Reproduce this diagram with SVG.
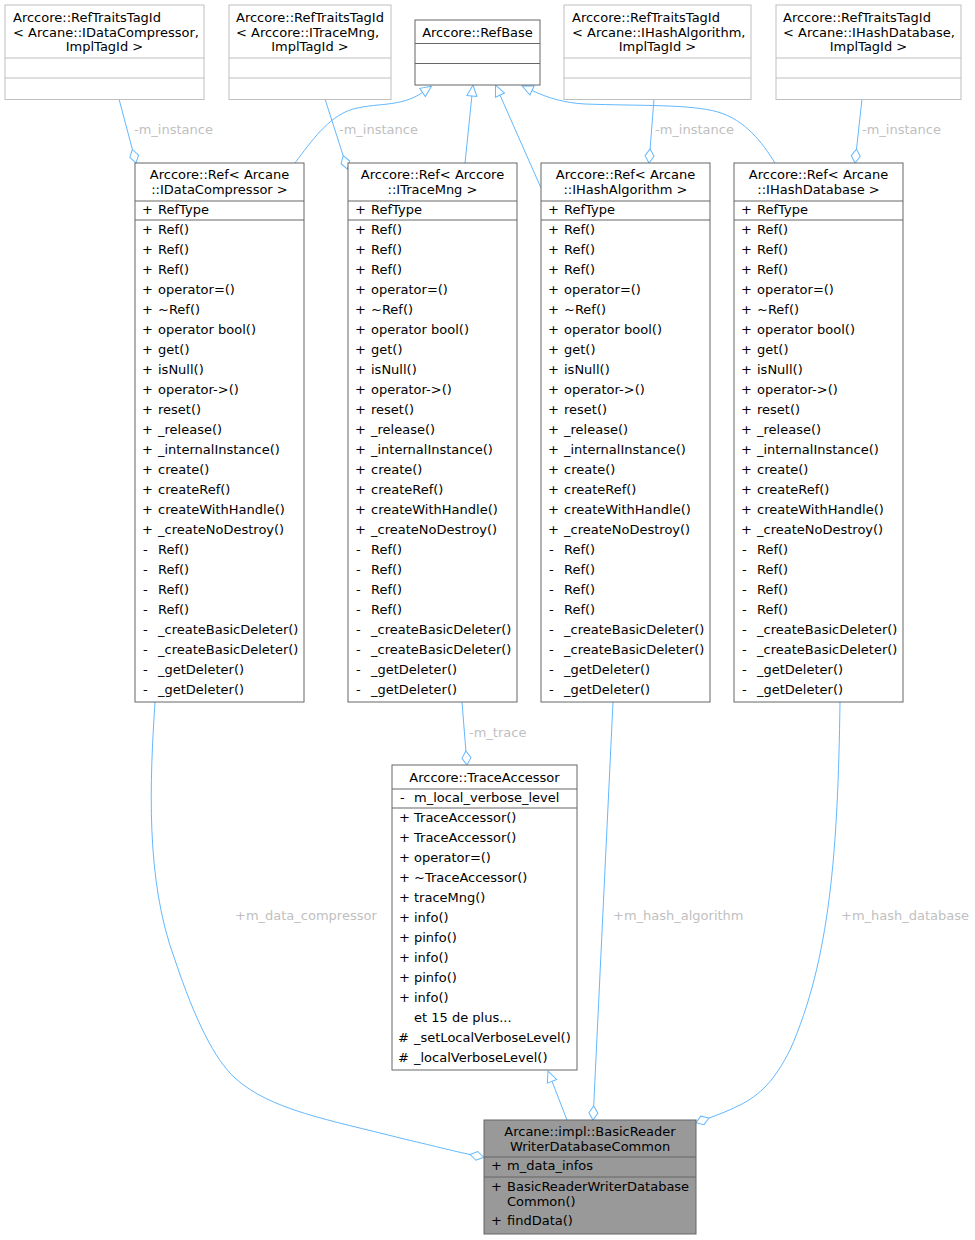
<svg xmlns="http://www.w3.org/2000/svg" width="975" height="1240" viewBox="0 0 975 1240">
<style>
text{font-family:"DejaVu Sans","Liberation Sans",sans-serif;font-size:13px;fill:#000}
.c{text-anchor:middle}
.lbl{fill:#bfbfbf}
.box{fill:#fff;stroke:#666;stroke-width:1}
.lbox{fill:#fff;stroke:#bfbfbf;stroke-width:1}
.sep{stroke:#666;stroke-width:1}
.lsep{stroke:#bfbfbf;stroke-width:1}
.e{fill:none;stroke:#63b8ff;stroke-width:1}
.inh{marker-end:url(#tri)}
.agg{marker-end:url(#dia)}
</style>
<defs>
<marker id="tri" viewBox="-1 -6 14 12" markerWidth="14" markerHeight="12" refX="0" refY="0" orient="auto" markerUnits="userSpaceOnUse"><path d="M0,-5 L11,0 L0,5 Z" fill="#fff" stroke="#63b8ff" stroke-width="1"/></marker>
<marker id="dia" viewBox="-1 -6 16 12" markerWidth="16" markerHeight="12" refX="0" refY="0" orient="auto" markerUnits="userSpaceOnUse"><path d="M0,0 L7,-4.5 L14,0 L7,4.5 Z" fill="#fff" stroke="#63b8ff" stroke-width="1"/></marker>
</defs>
<rect width="975" height="1240" fill="#fff"/>

<g id="edges">
<path class="e agg" d="M119,99 L132.4,149.5"/>
<path class="e agg" d="M325,99 L343.2,155.7"/>
<path class="e agg" d="M654,99 L650.1,149"/>
<path class="e agg" d="M862,99 L856.5,149.1"/>
<path class="e inh" d="M295,163 C312,140 328,118 350,110 C375,102 400,108 422.5,92.5"/>
<path class="e inh" d="M465,163 L471.9,96"/>
<path class="e inh" d="M541,188 L500,95.1"/>
<path class="e inh" d="M775,163 C762,142 745,120 718,112 C690,104 640,106 585,104 C565,103 548,98 532,90.5"/>
<path class="e agg" d="M462,702 L465.9,751"/>
<path class="e inh" d="M567,1120 L552,1081.3"/>
<path class="e agg" d="M613,702 L593.7,1106"/>
<path class="e agg" d="M155,702 C150,780 145,880 175,960 C195,1020 215,1060 235,1078 C270,1110 330,1120 400,1138 C430,1145 456,1151.7 470,1154.5"/>
<path class="e agg" d="M840,702 C838,850 830,960 790,1050 C775,1080 760,1095 740,1105 C728,1111 720,1114 709,1118"/>
<text class="lbl" x="134" y="134">-m_instance</text>
<text class="lbl" x="339" y="134">-m_instance</text>
<text class="lbl" x="655" y="134">-m_instance</text>
<text class="lbl" x="862" y="134">-m_instance</text>
<text class="lbl" x="469" y="737">-m_trace</text>
<text class="lbl" x="235" y="920">+m_data_compressor</text>
<text class="lbl" x="613" y="920">+m_hash_algorithm</text>
<text class="lbl" x="841" y="920">+m_hash_database</text>
</g>

<g id="node_traits_datacompressor">
<rect class="lbox" x="5" y="5" width="199" height="94.5"/>
<line class="lsep" x1="5" y1="58" x2="204" y2="58"/>
<line class="lsep" x1="5" y1="78" x2="204" y2="78"/>
<text x="13" y="22">Arccore::RefTraitsTagId</text>
<text x="13" y="36.5">&lt; Arcane::IDataCompressor,</text>
<text class="c" x="104.5" y="51">ImplTagId &gt;</text>
</g>
<g id="node_traits_tracemng">
<rect class="lbox" x="229" y="5" width="162" height="94.5"/>
<line class="lsep" x1="229" y1="58" x2="391" y2="58"/>
<line class="lsep" x1="229" y1="78" x2="391" y2="78"/>
<text x="236" y="22">Arccore::RefTraitsTagId</text>
<text x="236" y="36.5">&lt; Arccore::ITraceMng,</text>
<text class="c" x="310" y="51">ImplTagId &gt;</text>
</g>
<g id="node_refbase">
<rect class="box" x="415" y="20" width="125" height="65"/>
<line class="sep" x1="415" y1="43.5" x2="540" y2="43.5"/>
<line class="sep" x1="415" y1="63.5" x2="540" y2="63.5"/>
<text class="c" x="477.5" y="37">Arccore::RefBase</text>
</g>
<g id="node_traits_hashalgorithm">
<rect class="lbox" x="564" y="5" width="187" height="94.5"/>
<line class="lsep" x1="564" y1="58" x2="751" y2="58"/>
<line class="lsep" x1="564" y1="78" x2="751" y2="78"/>
<text x="572" y="22">Arccore::RefTraitsTagId</text>
<text x="572" y="36.5">&lt; Arcane::IHashAlgorithm,</text>
<text class="c" x="657.5" y="51">ImplTagId &gt;</text>
</g>
<g id="node_traits_hashdatabase">
<rect class="lbox" x="776" y="5" width="185" height="94.5"/>
<line class="lsep" x1="776" y1="58" x2="961" y2="58"/>
<line class="lsep" x1="776" y1="78" x2="961" y2="78"/>
<text x="783" y="22">Arccore::RefTraitsTagId</text>
<text x="783" y="36.5">&lt; Arcane::IHashDatabase,</text>
<text class="c" x="868.5" y="51">ImplTagId &gt;</text>
</g>

<defs>
<g id="refbody">
<rect class="box" x="0" y="163" width="169" height="539"/>
<line class="sep" x1="0" y1="201" x2="169" y2="201"/>
<line class="sep" x1="0" y1="220" x2="169" y2="220"/>
<text x="7" y="214">+</text><text x="23" y="214">RefType</text>
<text><tspan x="7" y="234">+</tspan><tspan x="7" dy="20">+</tspan><tspan x="7" dy="20">+</tspan><tspan x="7" dy="20">+</tspan><tspan x="7" dy="20">+</tspan><tspan x="7" dy="20">+</tspan><tspan x="7" dy="20">+</tspan><tspan x="7" dy="20">+</tspan><tspan x="7" dy="20">+</tspan><tspan x="7" dy="20">+</tspan><tspan x="7" dy="20">+</tspan><tspan x="7" dy="20">+</tspan><tspan x="7" dy="20">+</tspan><tspan x="7" dy="20">+</tspan><tspan x="7" dy="20">+</tspan><tspan x="7" dy="20">+</tspan><tspan x="8" dy="20">-</tspan><tspan x="8" dy="20">-</tspan><tspan x="8" dy="20">-</tspan><tspan x="8" dy="20">-</tspan><tspan x="8" dy="20">-</tspan><tspan x="8" dy="20">-</tspan><tspan x="8" dy="20">-</tspan><tspan x="8" dy="20">-</tspan></text>
<text><tspan x="23" y="234">Ref()</tspan><tspan x="23" dy="20">Ref()</tspan><tspan x="23" dy="20">Ref()</tspan><tspan x="23" dy="20">operator=()</tspan><tspan x="23" dy="20">~Ref()</tspan><tspan x="23" dy="20">operator bool()</tspan><tspan x="23" dy="20">get()</tspan><tspan x="23" dy="20">isNull()</tspan><tspan x="23" dy="20">operator-&gt;()</tspan><tspan x="23" dy="20">reset()</tspan><tspan x="23" dy="20">_release()</tspan><tspan x="23" dy="20">_internalInstance()</tspan><tspan x="23" dy="20">create()</tspan><tspan x="23" dy="20">createRef()</tspan><tspan x="23" dy="20">createWithHandle()</tspan><tspan x="23" dy="20">_createNoDestroy()</tspan><tspan x="23" dy="20">Ref()</tspan><tspan x="23" dy="20">Ref()</tspan><tspan x="23" dy="20">Ref()</tspan><tspan x="23" dy="20">Ref()</tspan><tspan x="23" dy="20">_createBasicDeleter()</tspan><tspan x="23" dy="20">_createBasicDeleter()</tspan><tspan x="23" dy="20">_getDeleter()</tspan><tspan x="23" dy="20">_getDeleter()</tspan></text>
</g>
</defs>

<g id="node_ref_datacompressor" transform="translate(135,0)">
<use href="#refbody"/>
<text class="c" x="84.5" y="179">Arccore::Ref&lt; Arcane</text>
<text class="c" x="84.5" y="193.5">::IDataCompressor &gt;</text>
</g>
<g id="node_ref_tracemng" transform="translate(348,0)">
<use href="#refbody"/>
<text class="c" x="84.5" y="179">Arccore::Ref&lt; Arccore</text>
<text class="c" x="84.5" y="193.5">::ITraceMng &gt;</text>
</g>
<g id="node_ref_hashalgorithm" transform="translate(541,0)">
<use href="#refbody"/>
<text class="c" x="84.5" y="179">Arccore::Ref&lt; Arcane</text>
<text class="c" x="84.5" y="193.5">::IHashAlgorithm &gt;</text>
</g>
<g id="node_ref_hashdatabase" transform="translate(734,0)">
<use href="#refbody"/>
<text class="c" x="84.5" y="179">Arccore::Ref&lt; Arcane</text>
<text class="c" x="84.5" y="193.5">::IHashDatabase &gt;</text>
</g>

<g id="node_traceaccessor">
<rect class="box" x="392" y="765" width="185" height="305"/>
<line class="sep" x1="392" y1="789" x2="577" y2="789"/>
<line class="sep" x1="392" y1="808" x2="577" y2="808"/>
<text class="c" x="484.5" y="782">Arccore::TraceAccessor</text>
<text x="400" y="802">-</text><text x="414" y="802">m_local_verbose_level</text>
<text><tspan x="399" y="822">+</tspan><tspan x="399" dy="20">+</tspan><tspan x="399" dy="20">+</tspan><tspan x="399" dy="20">+</tspan><tspan x="399" dy="20">+</tspan><tspan x="399" dy="20">+</tspan><tspan x="399" dy="20">+</tspan><tspan x="399" dy="20">+</tspan><tspan x="399" dy="20">+</tspan><tspan x="399" dy="20">+</tspan><tspan x="398" dy="40">#</tspan><tspan x="398" dy="20">#</tspan></text>
<text><tspan x="414" y="822">TraceAccessor()</tspan><tspan x="414" dy="20">TraceAccessor()</tspan><tspan x="414" dy="20">operator=()</tspan><tspan x="414" dy="20">~TraceAccessor()</tspan><tspan x="414" dy="20">traceMng()</tspan><tspan x="414" dy="20">info()</tspan><tspan x="414" dy="20">pinfo()</tspan><tspan x="414" dy="20">info()</tspan><tspan x="414" dy="20">pinfo()</tspan><tspan x="414" dy="20">info()</tspan><tspan x="414" dy="20">et 15 de plus...</tspan><tspan x="414" dy="20">_setLocalVerboseLevel()</tspan><tspan x="414" dy="20">_localVerboseLevel()</tspan></text>
</g>

<g id="node_basicreaderwriterdatabasecommon">
<rect x="484" y="1120" width="212" height="114" fill="#999" stroke="#666"/>
<line class="sep" x1="484" y1="1157" x2="696" y2="1157"/>
<line class="sep" x1="484" y1="1177" x2="696" y2="1177"/>
<text class="c" x="590" y="1136">Arcane::impl::BasicReader</text>
<text class="c" x="590" y="1151">WriterDatabaseCommon</text>
<text x="491" y="1170">+</text><text x="507" y="1170">m_data_infos</text>
<text x="491" y="1191">+</text><text x="507" y="1191">BasicReaderWriterDatabase</text>
<text x="507" y="1205.5">Common()</text>
<text x="491" y="1225">+</text><text x="507" y="1225">findData()</text>
</g>
</svg>
